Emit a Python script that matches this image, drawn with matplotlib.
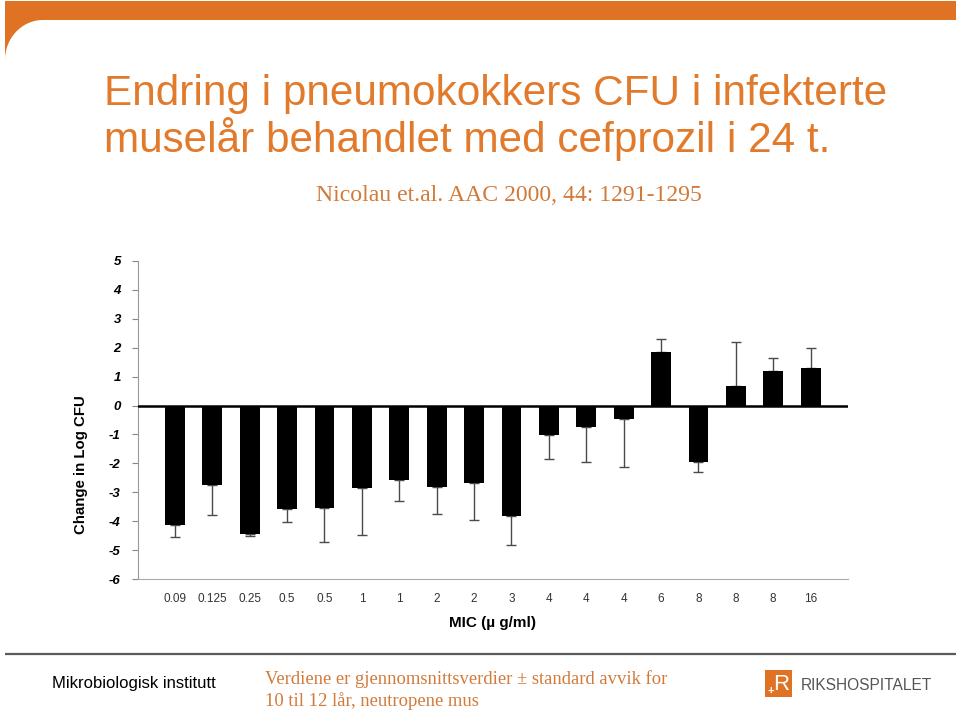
import numpy as np
import matplotlib
matplotlib.use("Agg")
import matplotlib.pyplot as plt
from matplotlib.patches import Rectangle, Polygon

# ---------------- data ----------------
mic_labels = ["0.09", "0.125", "0.25", "0.5", "0.5", "1", "1", "2", "2", "3",
              "4", "4", "4", "6", "8", "8", "8", "16"]
change_log_cfu = [-4.12, -2.75, -4.43, -3.57, -3.53, -2.84, -2.57, -2.80, -2.67, -3.82,
                  -1.03, -0.74, -0.48, 1.85, -1.95, 0.67, 1.19, 1.30]
std_dev = [0.43, 1.04, 0.07, 0.46, 1.19, 1.62, 0.73, 0.94, 1.29, 0.99,
           0.81, 1.22, 1.65, 0.46, 0.33, 1.53, 0.45, 0.67]
y_ticks = [5, 4, 3, 2, 1, 0, -1, -2, -3, -4, -5, -6]

title_lines = ["Endring i pneumokokkers CFU i infekterte",
               "muselår behandlet med cefprozil i 24 t."]
subtitle = "Nicolau et.al. AAC 2000, 44: 1291-1295"
footer_left = "Mikrobiologisk institutt"
footer_note = ["Verdiene er gjennomsnittsverdier ± standard avvik for",
               "10 til 12 lår, neutropene mus"]
logo_text = "RIKSHOSPITALET"

ORANGE = "#E07224"
TITLE_ORANGE = "#E27A2C"
NOTE_ORANGE = "#D27A3A"

W, H = 960, 711
fig = plt.figure(figsize=(W / 100, H / 100), dpi=100)

# ---------------- decoration overlay (pixel coords) ----------------
deco = fig.add_axes([0, 0, 1, 1])
deco.set_xlim(0, W)
deco.set_ylim(H, 0)
deco.axis("off")

deco.add_patch(Rectangle((5, 1), 951, 19, facecolor=ORANGE, edgecolor="none"))
phi = np.linspace(0, np.pi / 2, 40)
curve = np.column_stack([43 - 38 * np.cos(phi), 60 - 40 * np.sin(phi)])
deco.add_patch(Polygon(np.vstack([[[5, 20]], curve]), closed=True,
                       facecolor=ORANGE, edgecolor="none"))

deco.text(104, 105, title_lines[0], fontsize=30.4, color=TITLE_ORANGE,
          family="Liberation Sans", va="baseline", ha="left")
deco.text(104, 152, title_lines[1], fontsize=30.4, color=TITLE_ORANGE,
          family="Liberation Sans", va="baseline", ha="left")
deco.text(509, 201, subtitle, fontsize=17.1, color=NOTE_ORANGE,
          family="Liberation Serif", va="baseline", ha="center")

# footer
deco.plot([5, 956], [654, 654], color="#5a5a5a", lw=1.6, solid_capstyle="butt")
deco.text(52, 688, footer_left, fontsize=12, color="black",
          family=["Liberation Sans Narrow", "Liberation Sans"], va="baseline", ha="left")
deco.text(265, 684, footer_note[0], fontsize=13.4, color=NOTE_ORANGE,
          family="Liberation Serif", va="baseline", ha="left")
deco.text(265, 706, footer_note[1], fontsize=13.4, color=NOTE_ORANGE,
          family="Liberation Serif", va="baseline", ha="left")
deco.add_patch(Rectangle((765, 670), 27, 27, facecolor=ORANGE, edgecolor="none"))
deco.text(781, 684, "R", fontsize=16, color="white", family="Liberation Sans",
          va="center", ha="center")
deco.text(771, 691, "+", fontsize=8, color="white", family="Liberation Sans",
          fontweight="bold", va="center", ha="center")
deco.text(801, 690, logo_text, fontsize=11.2, color="#555555",
          family=["Liberation Sans Narrow", "Liberation Sans"], va="baseline", ha="left")

# ---------------- chart ----------------
ax_l, ax_r = 137.5, 848
ax_t, ax_b = 260.7, 579.3
ax = fig.add_axes([ax_l / W, (H - ax_b) / H, (ax_r - ax_l) / W, (ax_b - ax_t) / H])
ax.patch.set_alpha(0)

x = np.arange(len(mic_labels))
vals = np.array(change_log_cfu)
sd = np.array(std_dev)
lower = np.where(vals < 0, sd, 0)
upper = np.where(vals >= 0, sd, 0)

ax.errorbar(x, vals, yerr=[lower, upper], fmt="none", ecolor="#4a4a4a",
            elinewidth=1.0, capsize=3.6, capthick=1.0, zorder=1)
ax.bar(x, vals, width=0.53, color="black", zorder=2)
ax.axhline(0, color="black", lw=1.8, zorder=3)

ax.set_xlim(-1, 18)
ax.set_ylim(-6, 5)
ax.set_yticks(y_ticks)
ax.set_yticklabels([str(t) for t in y_ticks], fontsize=9.5, fontweight="bold",
                   fontstyle="italic", family="Liberation Sans")
ax.set_xticks(x)
ax.set_xticklabels(mic_labels, fontsize=8.5, color="#333333", family="Liberation Sans")
ax.tick_params(axis="x", length=0, pad=10)
ax.tick_params(axis="y", length=4, width=0.8, color="#888888", pad=8)

for s in ["top", "right"]:
    ax.spines[s].set_visible(False)
ax.spines["left"].set_color("#999999")
ax.spines["left"].set_linewidth(0.8)
ax.spines["bottom"].set_color("#aaaaaa")
ax.spines["bottom"].set_linewidth(0.8)

ax.set_xlabel("MIC (µ g/ml)", fontsize=11, fontweight="bold", family="Liberation Sans")
ax.xaxis.set_label_coords(0.5, -0.115)
ax.set_ylabel("Change in Log CFU", fontsize=10.8, fontweight="bold", family="Liberation Sans")
ax.yaxis.set_label_coords(-0.07, 0.359)

fig.savefig("out.png", dpi=100)
